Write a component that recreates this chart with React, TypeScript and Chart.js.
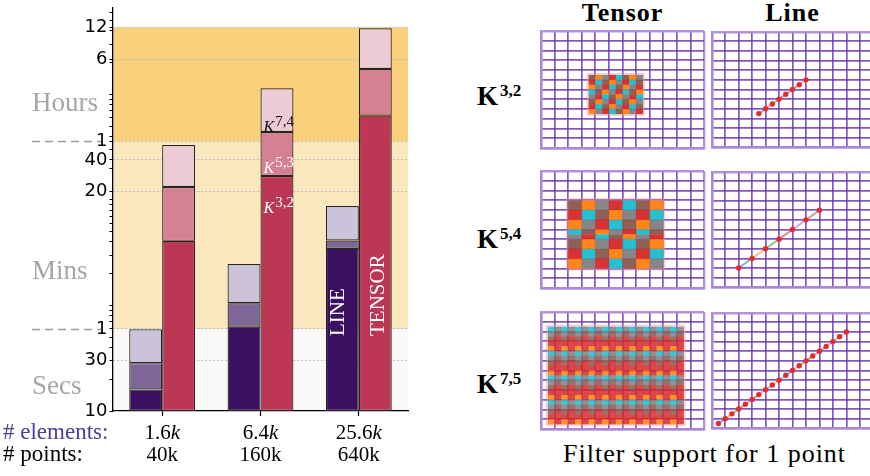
import React, { useEffect, useRef } from 'react';
import { Chart, registerables } from 'chart.js';

Chart.register(...registerables);

// ---------------- timing chart data ----------------
const elementCounts = ['1.6', '6.4', '25.6']; // thousands of elements, "k" is set in italics
const pointCounts = ['40k', '160k', '640k'];

// cumulative run time (seconds) reached after each filter level
const lineK32 = [16, 63, 344];
const lineK54 = [28.4, 105, 413];
const lineK75 = [59.6, 247, 875];
const tensorK32 = [410, 1686, 6300];
const tensorK53 = [1326, 4406, 17450];
const tensorK74 = [3318, 11430, 42360];

const majorTickValues = [10, 30, 60, 1200, 2400, 3600, 21600, 43200];
const majorTickLabels = ['10', '30', '1', '20', '40', '1', '6', '12'];
const minorTickValues = [
  20, 40, 50, 70, 80, 90, 100, 200, 300, 400, 500, 600, 700, 800, 900, 1000,
  2000, 3000, 4000, 5000, 6000, 7000, 8000, 9000, 10000, 20000, 30000, 40000, 50000, 60000,
];

const bandEdges = [10, 60, 3600, 43200];
const bandNames = ['Secs', 'Mins', 'Hours'];
const bandColors = ['#fbfaf8', '#fbe7bd', '#f9d07c'];

// ---------------- filter support panels ----------------
const gridLines = [0, 1, 2, 3, 4, 5, 6, 7, 8, 9, 10, 11, 12];

// tensor support: box [x0, x1, y0, y1] in grid units, rows listed top to bottom
const tensorK32Box = [3.5, 7.5, 3.5, 7.5];
const tensorK32Rows = ['BOGRCBOG', 'RCBOGRCB', 'OGRCBOGR', 'CBOGRCBO', 'GRCBOGRC', 'BOGRCBOG', 'RCBOGRCB', 'OGRCBOGR'];
const tensorK32Heights = [1, 1, 1, 1, 1, 1, 1, 1];

const tensorK54Box = [2, 9, 2, 9];
const tensorK54Rows = ['BOGRCBO', 'RCBOGRC', 'OGRCBOG', 'CBOGRCB', 'GRCBOGR', 'BOGRCBO', 'RCBOGRC', 'OGRCBOG'];
const tensorK54Heights = [1, 1, 1, 0.5, 0.5, 1, 1, 1];

const tensorK75Box = [0.5, 10.5, 0.5, 10.5];
const tensorK75Rows = [
  'CG', 'GB', 'BR', 'RR', 'OR',
  'CG', 'GB', 'BR', 'RR', 'OR',
  'CG', 'GB', 'BR', 'RR', 'OR',
  'CG', 'GB', 'BR', 'RR', 'OR',
];
const tensorK75Heights = [1, 1, 1, 1, 1, 1, 1, 1, 1, 1, 1, 1, 1, 1, 1, 1, 1, 1, 1, 1];

// line support: sample positions along the diagonal (grid units)
const lineK32Pts = [3.5, 4, 4.5, 5, 5.5, 6, 6.5, 7];
const lineK54Pts = [2, 3, 4, 5, 6, 7, 8];
const lineK75Pts = [0.5, 1, 1.5, 2, 2.5, 3, 3.5, 4, 4.5, 5, 5.5, 6, 6.5, 7, 7.5, 8, 8.5, 9, 9.5, 10];

const cellColors: Record<string, string> = {
  B: '#8c564b',
  O: '#ff7f0e',
  G: '#7f7f7f',
  R: '#d62728',
  C: '#17becf',
};
const segmentColors = [
  'rgba(31,119,180,0.55)', 'rgba(255,127,14,0.55)', 'rgba(44,160,44,0.55)', 'rgba(214,39,40,0.55)',
  'rgba(148,103,189,0.55)', 'rgba(140,86,75,0.55)', 'rgba(227,119,194,0.55)', 'rgba(127,127,127,0.55)',
  'rgba(188,189,34,0.55)', 'rgba(23,190,207,0.55)',
];

const SERIF = '"Liberation Serif"';

// ---------------- timing chart ----------------
const timingDecor = {
  id: 'timingDecor',
  beforeDraw(chart: any) {
    const { ctx, chartArea: a, scales } = chart;
    const y = scales.y;
    ctx.save();
    for (let i = 0; i < bandNames.length; i++) {
      const top = y.getPixelForValue(bandEdges[i + 1]);
      const bottom = y.getPixelForValue(bandEdges[i]);
      ctx.fillStyle = bandColors[i];
      ctx.fillRect(a.left, top, a.right - a.left, bottom - top);
    }
    ctx.restore();
  },
  afterDraw(chart: any) {
    const { ctx, scales } = chart;
    const { x, y } = scales;
    ctx.save();

    // band names on the left
    ctx.font = `27px ${SERIF}`;
    ctx.fillStyle = '#a6a6a6';
    ctx.textAlign = 'left';
    ctx.textBaseline = 'alphabetic';
    const nameBaselines = [y.getPixelForValue(10) - 17, y.getPixelForValue(60) - 50, y.getPixelForValue(3600) - 30];
    bandNames.forEach((n, i) => ctx.fillText(n, 32, nameBaselines[i]));

    // dashed separators between bands
    ctx.strokeStyle = '#9c9c9c';
    ctx.lineWidth = 1.5;
    ctx.setLineDash([8, 5]);
    [bandEdges[1], bandEdges[2]].forEach((v) => {
      const py = Math.round(y.getPixelForValue(v)) + 0.5;
      ctx.beginPath();
      ctx.moveTo(32, py);
      ctx.lineTo(101, py);
      ctx.stroke();
    });
    ctx.setLineDash([]);

    // category rows under the axis
    ctx.font = `23px ${SERIF}`;
    ctx.fillStyle = '#4a3f9f';
    ctx.fillText('# elements:', 3, 439);
    ctx.fillStyle = '#000';
    ctx.fillText('# points:', 3, 461);
    elementCounts.forEach((n, i) => {
      const cx = x.getPixelForValue(i);
      ctx.font = `21px ${SERIF}`;
      const w1 = ctx.measureText(n).width;
      ctx.font = `italic 21px ${SERIF}`;
      const w2 = ctx.measureText('k').width;
      const sx = cx - (w1 + w2) / 2;
      ctx.font = `21px ${SERIF}`;
      ctx.fillText(n, sx, 439);
      ctx.font = `italic 21px ${SERIF}`;
      ctx.fillText('k', sx + w1, 439);
      ctx.font = `21px ${SERIF}`;
      ctx.textAlign = 'center';
      ctx.fillText(pointCounts[i], cx, 461);
      ctx.textAlign = 'left';
    });

    // filter level names on the middle tensor bar
    const levelNames = ['3,2', '5,3', '7,4'];
    const levelInk = ['#ffffff', '#ffffff', '#111111'];
    const levelDrop = [37, 41, 44];
    [3, 4, 5].forEach((di, k) => {
      const bar = chart.getDatasetMeta(di).data[1];
      const lx = bar.x - bar.width / 2 + 3;
      const ly = bar.y + levelDrop[k];
      ctx.fillStyle = levelInk[k];
      ctx.font = `italic 16px ${SERIF}`;
      ctx.fillText('K', lx, ly);
      const kw = ctx.measureText('K').width;
      ctx.font = `15px ${SERIF}`;
      ctx.fillText(levelNames[k], lx + kw + 1, ly - 6);
    });

    // method names written up the bars of the largest mesh
    ctx.font = `21px ${SERIF}`;
    ctx.fillStyle = '#ffffff';
    ctx.textBaseline = 'middle';
    const up = (t: string, px: number, py: number) => {
      ctx.save();
      ctx.translate(px, py);
      ctx.rotate(-Math.PI / 2);
      ctx.fillText(t, 0, 0);
      ctx.restore();
    };
    const lineBar = chart.getDatasetMeta(0).data[2];
    const tensorBar = chart.getDatasetMeta(3).data[2];
    up('LINE', lineBar.x - 4, lineBar.base - 75);
    up('TENSOR', tensorBar.x + 3, tensorBar.base - 75);

    ctx.restore();
  },
};

const segment = (tops: number[], below: number[] | null) =>
  tops.map((v, i) => (below ? [below[i], v] : v));

function TimingChart() {
  const ref = useRef<HTMLCanvasElement>(null);
  useEffect(() => {
    const majorSet = new Set(majorTickValues);
    const allTicks = [...majorTickValues, ...minorTickValues].sort((a, b) => a - b);
    const chart = new Chart(ref.current as HTMLCanvasElement, {
      type: 'bar',
      data: {
        labels: elementCounts,
        datasets: [
          { label: 'LINE K3,2', data: segment(lineK32, null), stack: 'line', backgroundColor: '#3b1060' },
          { label: 'LINE K5,4', data: segment(lineK54, lineK32), stack: 'line', backgroundColor: '#7f6698' },
          { label: 'LINE K7,5', data: segment(lineK75, lineK54), stack: 'line', backgroundColor: '#cbc3d9' },
          { label: 'TENSOR K3,2', data: segment(tensorK32, null), stack: 'tensor', backgroundColor: '#bc3754' },
          { label: 'TENSOR K5,3', data: segment(tensorK53, tensorK32), stack: 'tensor', backgroundColor: '#d68193' },
          { label: 'TENSOR K7,4', data: segment(tensorK74, tensorK53), stack: 'tensor', backgroundColor: '#edcbd4' },
        ] as any,
      },
      options: {
        animation: false,
        responsive: false,
        layout: { padding: { top: 8, right: 12, left: 0, bottom: 0 } },
        plugins: { legend: { display: false }, tooltip: { enabled: false } },
        datasets: {
          bar: {
            categoryPercentage: 0.67,
            barPercentage: 1,
            borderWidth: 1.2,
            borderColor: '#262626',
            borderSkipped: false,
          },
        } as any,
        scales: {
          x: {
            type: 'category',
            offset: true,
            grid: { offset: false, drawOnChartArea: false, tickLength: 5, tickColor: '#000', tickWidth: 1.2 },
            border: { color: '#000', width: 1.3 },
            ticks: { callback: () => '', padding: 0 },
            afterFit: (s: any) => {
              s.height = 65;
            },
          },
          y: {
            type: 'logarithmic',
            min: 10,
            max: 66000,
            stacked: false,
            afterBuildTicks: (s: any) => {
              s.ticks = allTicks.map((v) => ({ value: v, major: majorSet.has(v) }));
            },
            ticks: {
              autoSkip: false,
              padding: 2,
              color: '#000',
              font: { family: 'DejaVu Sans', size: 18 },
              callback: (v: any) => {
                const i = majorTickValues.indexOf(Number(v));
                return i >= 0 ? majorTickLabels[i] : '';
              },
            },
            grid: {
              color: (c: any) =>
                c.tick && majorSet.has(c.tick.value) && c.tick.value !== bandEdges[0] ? '#bdbdbd' : 'rgba(0,0,0,0)',
              lineWidth: 1,
              tickLength: 3.5,
              tickColor: '#000',
              tickWidth: 1,
            },
            border: { color: '#000', width: 1.3, dash: [2, 2] },
            afterFit: (s: any) => {
              s.width = 113;
              s.paddingTop = 0;
              s.paddingBottom = 0;
            },
          },
        } as any,
      },
      plugins: [timingDecor],
    });
    return () => chart.destroy();
  }, []);
  return (
    <canvas
      ref={ref}
      width={420}
      height={476}
      style={{ position: 'absolute', left: 0, top: 0, width: 420, height: 476 }}
    />
  );
}

// ---------------- support panels ----------------
function panelOptions(): any {
  const axis = {
    type: 'linear',
    min: 0,
    max: 12,
    afterBuildTicks: (s: any) => {
      s.ticks = gridLines.map((v) => ({ value: v }));
    },
    ticks: { display: false },
    grid: {
      drawTicks: false,
      color: (c: any) =>
        c.tick && (c.tick.value === 0 || c.tick.value === 12) ? 'rgba(170,135,215,0.9)' : 'rgba(108,58,180,0.85)',
      lineWidth: (c: any) => (c.tick && (c.tick.value === 0 || c.tick.value === 12) ? 2.4 : 1.7),
    },
    border: { display: true, color: 'rgba(170,135,215,0.9)', width: 2.4 },
  };
  return {
    animation: false,
    responsive: false,
    layout: { padding: 2 },
    events: [],
    plugins: { legend: { display: false }, tooltip: { enabled: false } },
    scales: { x: { ...axis }, y: { ...axis } },
  };
}

function tensorCells(box: number[], rows: string[], heights: number[], cols: number, alpha: number) {
  return {
    id: 'tensorCells',
    beforeDatasetsDraw(chart: any) {
      const { ctx, scales } = chart;
      const { x, y } = scales;
      const [x0, x1, y0, y1] = box;
      const total = heights.reduce((a, b) => a + b, 0);
      const colW = (x1 - x0) / cols;
      ctx.save();
      ctx.globalAlpha = alpha;
      let yTop = y1;
      rows.forEach((row, r) => {
        const yBot = yTop - ((y1 - y0) * heights[r]) / total;
        const py0 = y.getPixelForValue(yTop);
        const py1 = y.getPixelForValue(yBot);
        for (let c = 0; c < cols; c++) {
          const px0 = x.getPixelForValue(x0 + c * colW);
          const px1 = x.getPixelForValue(x0 + (c + 1) * colW);
          ctx.fillStyle = cellColors[row[c % row.length]];
          ctx.fillRect(px0, py0, px1 - px0 + 0.3, py1 - py0 + 0.3);
        }
        yTop = yBot;
      });
      ctx.globalAlpha = 1;
      ctx.strokeStyle = 'rgba(240,150,150,0.45)';
      ctx.lineWidth = 2;
      const l = x.getPixelForValue(x0);
      const t = y.getPixelForValue(y1);
      ctx.strokeRect(l - 1, t - 1, x.getPixelForValue(x1) - l + 2, y.getPixelForValue(y0) - t + 2);
      ctx.restore();
    },
  };
}

function ChartBox({ left, top, make }: { left: number; top: number; make: () => any }) {
  const ref = useRef<HTMLCanvasElement>(null);
  useEffect(() => {
    const chart = new Chart(ref.current as HTMLCanvasElement, make());
    return () => chart.destroy();
  }, []);
  return (
    <canvas
      ref={ref}
      width={167}
      height={121}
      style={{ position: 'absolute', left, top, width: 167, height: 121 }}
    />
  );
}

const tensorConfig = (box: number[], rows: string[], heights: number[], cols: number, alpha: number) => () => ({
  type: 'scatter',
  data: { datasets: [] },
  options: panelOptions(),
  plugins: [tensorCells(box, rows, heights, cols, alpha)],
});

const lineConfig = (pts: number[]) => () => ({
  type: 'scatter',
  data: {
    datasets: [
      {
        data: pts.map((v) => ({ x: v, y: v })),
        showLine: true,
        borderWidth: 2,
        borderColor: segmentColors[0],
        segment: { borderColor: (c: any) => segmentColors[c.p0DataIndex % segmentColors.length] },
        pointRadius: 2.7,
        pointBackgroundColor: '#e8292b',
        pointBorderWidth: 0,
        pointHoverRadius: 0,
      },
    ],
  },
  options: panelOptions(),
});

const headStyle = (left: number): React.CSSProperties => ({
  position: 'absolute',
  left,
  top: 0,
  width: 165,
  textAlign: 'center',
  font: `bold 26px ${SERIF}`,
  lineHeight: '26px',
  letterSpacing: '1px',
  color: '#000',
});

function RowLabel({ top, sup }: { top: number; sup: string }) {
  return (
    <div
      style={{
        position: 'absolute',
        left: 477,
        top,
        font: `bold 27px ${SERIF}`,
        lineHeight: '27px',
        whiteSpace: 'nowrap',
        color: '#000',
      }}
    >
      K
      <span style={{ fontSize: 17, position: 'relative', top: -9, marginLeft: 2 }}>{sup}</span>
    </div>
  );
}

export default function App() {
  return (
    <div
      style={{
        position: 'absolute',
        left: 0,
        top: 0,
        width: 870,
        height: 476,
        overflow: 'hidden',
        background: '#fff',
      }}
    >
      <TimingChart />
      <div style={headStyle(540)}>Tensor</div>
      <div style={headStyle(710)}>Line</div>

      <RowLabel top={83} sup="3,2" />
      <RowLabel top={226} sup="5,4" />
      <RowLabel top={371} sup="7,5" />

      <ChartBox left={539} top={29} make={tensorConfig(tensorK32Box, tensorK32Rows, tensorK32Heights, 8, 0.95)} />
      <ChartBox left={709} top={29} make={lineConfig(lineK32Pts)} />
      <ChartBox left={539} top={169} make={tensorConfig(tensorK54Box, tensorK54Rows, tensorK54Heights, 7, 0.95)} />
      <ChartBox left={709} top={169} make={lineConfig(lineK54Pts)} />
      <ChartBox left={539} top={310} make={tensorConfig(tensorK75Box, tensorK75Rows, tensorK75Heights, 20, 0.85)} />
      <ChartBox left={709} top={310} make={lineConfig(lineK75Pts)} />

      <div
        style={{
          position: 'absolute',
          left: 563,
          top: 441,
          font: `26px ${SERIF}`,
          lineHeight: '26px',
          letterSpacing: '1px',
          whiteSpace: 'nowrap',
          color: '#000',
        }}
      >
        Filter support for 1 point
      </div>
    </div>
  );
}
